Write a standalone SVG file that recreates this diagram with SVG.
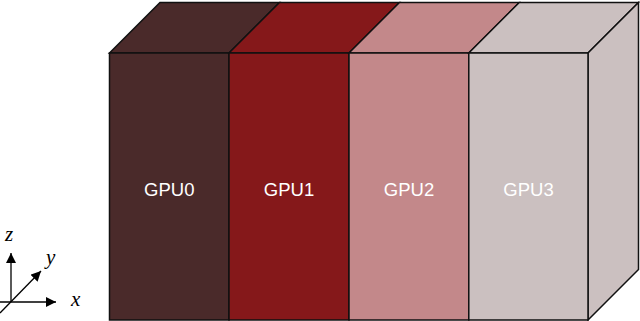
<svg xmlns="http://www.w3.org/2000/svg" width="640" height="321" viewBox="0 0 640 321">
<style>
.f{stroke:#111;stroke-width:1.5;stroke-linejoin:miter}
.g0{fill:#4a2a2a}.g1{fill:#85181a}.g2{fill:#c3888a}.g3{fill:#cbc0c0}
.lbl{font-family:"Liberation Sans",Arial,sans-serif;font-size:18.5px;fill:#ffffff;text-anchor:middle}
.ax{stroke:#000;stroke-width:1.3;fill:none}
.al{font-family:"Liberation Serif","Times New Roman",serif;font-style:italic;font-size:21px;fill:#000}
</style>
<defs>
<marker id="ah" viewBox="0 0 10 10" refX="10" refY="5" markerWidth="11" markerHeight="10" markerUnits="userSpaceOnUse" orient="auto">
<path d="M0,0 L10,5 L0,10 Z" fill="#000"/>
</marker>
</defs>
<g id="gpu0">
<polygon class="f g0" points="109.5,53 160,2.5 279.5,2.5 229,53"/>
<rect class="f g0" x="109.5" y="53" width="119.5" height="267"/>
<text class="lbl" x="169.3" y="195.5">GPU0</text>
</g>
<g id="gpu1">
<polygon class="f g1" points="229,53 279.5,2.5 399.5,2.5 349,53"/>
<rect class="f g1" x="229" y="53" width="120" height="267"/>
<text class="lbl" x="289" y="195.5">GPU1</text>
</g>
<g id="gpu2">
<polygon class="f g2" points="349,53 399.5,2.5 519.3,2.5 468.8,53"/>
<rect class="f g2" x="349" y="53" width="119.8" height="267"/>
<text class="lbl" x="409" y="195.5">GPU2</text>
</g>
<g id="gpu3">
<polygon class="f g3" points="468.8,53 519.3,2.5 638.5,2.5 588,53"/>
<polygon class="f g3" points="588,53 638.5,2.5 638.5,269.5 588,320"/>
<rect class="f g3" x="468.8" y="53" width="119.2" height="267"/>
<text class="lbl" x="528.5" y="195.5">GPU3</text>
</g>
<g id="axes">
<line class="ax" x1="11" y1="302" x2="11" y2="253" marker-end="url(#ah)"/>
<line class="ax" x1="0" y1="302" x2="56" y2="302" marker-end="url(#ah)"/>
<line class="ax" x1="0" y1="313" x2="41" y2="271" marker-end="url(#ah)"/>
<text class="al" x="5" y="241">z</text>
<text class="al" x="46" y="264">y</text>
<text class="al" x="71" y="306">x</text>
</g>
</svg>
